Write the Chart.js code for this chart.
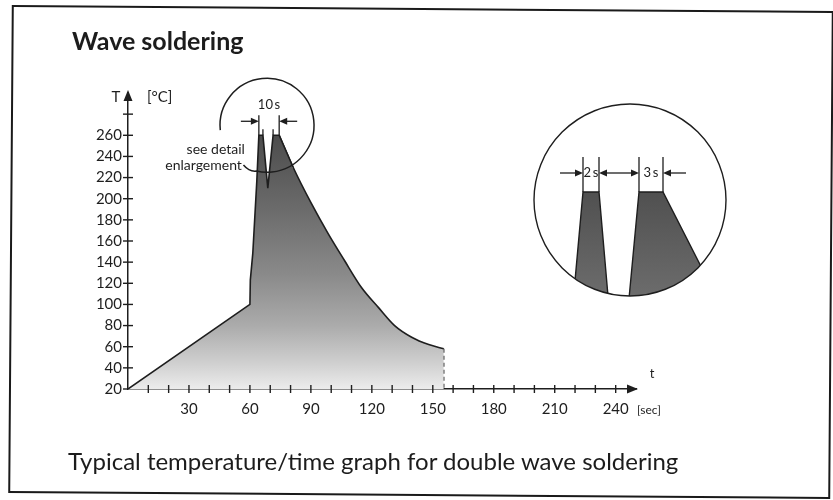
<!DOCTYPE html>
<html>
<head>
<meta charset="utf-8">
<script src="https://cdn.jsdelivr.net/npm/chart.js@4.4.1/dist/chart.umd.min.js"></script>
<style>
  html, body { margin: 0; padding: 0; background: #fff; }
  #wrap { position: relative; width: 833px; height: 500px; overflow: hidden; background: #fff; }
  #frame { position: absolute; left: 10px; top: 8px; width: 822px; height: 488px;
           border: 2px solid #1a1a1a; box-sizing: border-box; transform: rotate(0.42deg); }
  .txt { position: absolute; font-family: Lato, "Open Sans", sans-serif; color: #1c1c1c; white-space: nowrap; }
  #title { left: 72px; top: 25px; font-size: 25px; line-height: 30px; font-weight: bold; }
  #caption { left: 68px; top: 446px; font-size: 24px; line-height: 30px; font-weight: normal; }
  canvas { position: absolute; }
  #main { left: 0; top: 0; }
  #detail { left: 520px; top: 95px; }
</style>
</head>
<body>
<div id="wrap">
  <canvas id="main" width="833" height="500"></canvas>
  <canvas id="detail" width="220" height="215"></canvas>
  <div id="title" class="txt">Wave soldering</div>
  <div id="caption" class="txt">Typical temperature/time graph for double wave soldering</div>
  <div id="frame"></div>
</div>
<script>
// Preheat ramp and the two solder waves (time in s, temperature in °C)
const rampTime = [0, 60, 60.2, 61.4, 63.4, 64.4, 66.4, 68.8, 71.4, 74.4];
const rampTemp = [20, 100, 123, 148, 217, 260, 260, 210, 260, 260];

// Cooling after the second wave
const coolTime = [74.4, 81.2, 90.1, 98.5, 106.4, 114.9, 123.3, 131.2, 139.6, 148.0, 155.4];
const coolTemp = [260, 230, 196, 167, 142, 116, 97, 80, 69, 62, 58];

// Enlarged view of the two wave peaks
const detailTime = [62.6, 64.4, 66.4, 68.8, 71.4, 74.4, 84.6];
const detailTemp = [180, 260, 260, 149, 260, 260, 180];

// Axis tick labels
const timeLabels = [30, 60, 90, 120, 150, 180, 210, 240];
const tempLabels = [20, 40, 60, 80, 100, 120, 140, 160, 180, 200, 220, 240, 260];

const FONT = 'Lato, "Open Sans", sans-serif';
const INK = '#1e1e1e';

const pts = (xs, ys) => xs.map((x, i) => ({ x, y: ys[i] }));
const endTime = coolTime[coolTime.length - 1];
const endTemp = coolTemp[coolTemp.length - 1];

function arrowHead(ctx, x, y, angle, len, half) {
  ctx.save();
  ctx.translate(x, y);
  ctx.rotate(angle);
  ctx.beginPath();
  ctx.moveTo(0, 0);
  ctx.lineTo(-len, -half);
  ctx.lineTo(-len, half);
  ctx.closePath();
  ctx.fill();
  ctx.restore();
}

function line(ctx, x1, y1, x2, y2) {
  ctx.beginPath();
  ctx.moveTo(x1, y1);
  ctx.lineTo(x2, y2);
  ctx.stroke();
}

function profileFill(context) {
  const chart = context.chart;
  const { ctx, chartArea, scales } = chart;
  if (!chartArea) return null;
  const top = scales.y.getPixelForValue(260);
  const bottom = scales.y.getPixelForValue(20);
  const g = ctx.createLinearGradient(0, top, 0, bottom);
  g.addColorStop(0, '#4c4c4c');
  g.addColorStop(0.3, '#6c6c6c');
  g.addColorStop(0.55, '#8a8a8a');
  g.addColorStop(0.75, '#ababab');
  g.addColorStop(0.9, '#d0d0d0');
  g.addColorStop(1, '#ececec');
  return g;
}

// Axis ticks, arrows, axis names and the magnifier annotation
const mainDecor = {
  id: 'mainDecor',
  afterDraw(chart) {
    const { ctx, scales: { x, y } } = chart;
    const x0 = x.getPixelForValue(0);
    const y0 = y.getPixelForValue(20);
    ctx.save();
    ctx.strokeStyle = INK;
    ctx.fillStyle = INK;
    ctx.lineWidth = 1.4;

    // crossing tick marks
    x.ticks.forEach(t => {
      if (t.value <= 0 || t.value > 240) return;
      const px = x.getPixelForValue(t.value);
      line(ctx, px, y0 - 4, px, y0 + 4);
    });
    y.ticks.forEach(t => {
      if (t.value <= 20 || t.value > 280) return;
      const py = y.getPixelForValue(t.value);
      line(ctx, x0 - 5, py, x0 + 5, py);
    });
    line(ctx, x0 - 5, y0, x0, y0);

    // axis arrows
    arrowHead(ctx, x0, y.top - 3, -Math.PI / 2, 11, 4.5);
    arrowHead(ctx, x.right + 2, y0, 0, 11, 4.5);

    // axis names and units
    ctx.font = '15px ' + FONT;
    ctx.textBaseline = 'middle';
    ctx.textAlign = 'center';
    ctx.fillText('T', x0 - 12, y.top + 4);
    ctx.textAlign = 'left';
    ctx.fillText('[°C]', x0 + 19, y.top + 4);
    ctx.font = '13px ' + FONT;
    ctx.textAlign = 'center';
    ctx.fillText('t', x.right + 16, y0 - 15);
    ctx.font = '12px ' + FONT;
    ctx.textAlign = 'left';
    ctx.fillText('[sec]', x.right + 1, y0 + 21);

    // magnifier around the wave peaks
    const pL = x.getPixelForValue(rampTime[5]);
    const pIn1 = x.getPixelForValue(rampTime[6]);
    const pIn2 = x.getPixelForValue(rampTime[8]);
    const pR = x.getPixelForValue(rampTime[9]);
    const yTop = y.getPixelForValue(260);
    const cx = (pL + pR) / 2 - 2;
    const cy = yTop - 10;
    const r = 47;
    const a0 = 174 * Math.PI / 180;
    const a1 = (360 + 103) * Math.PI / 180;
    ctx.lineWidth = 1.5;
    ctx.beginPath();
    ctx.arc(cx, cy, r, a0, a1, false);
    const ex = cx + r * Math.cos(a1);
    const ey = cy + r * Math.sin(a1);
    ctx.quadraticCurveTo(ex - 7, ey + 1, ex - 13, ey - 6);
    ctx.stroke();

    // 10 s dimension
    ctx.lineWidth = 1.3;
    line(ctx, pL, yTop - 20, pL, yTop);
    line(ctx, pR, yTop - 20, pR, yTop);
    line(ctx, pIn1, yTop - 6, pIn1, yTop);
    line(ctx, pIn2, yTop - 6, pIn2, yTop);
    const ay = yTop - 14;
    line(ctx, pL - 18, ay, pL - 6, ay);
    arrowHead(ctx, pL, ay, 0, 8, 3.5);
    line(ctx, pR + 18, ay, pR + 6, ay);
    arrowHead(ctx, pR, ay, Math.PI, 8, 3.5);
    ctx.font = '13px ' + FONT;
    ctx.textAlign = 'center';
    ctx.fillText('10\u2009s', (pL + pR) / 2, yTop - 30);

    ctx.font = '14px ' + FONT;
    ctx.textAlign = 'right';
    ctx.fillText('see detail', pL - 14, yTop + 14);
    ctx.fillText('enlargement', pL - 17, yTop + 30);
    ctx.restore();
  }
};

const mainChart = new Chart(document.getElementById('main'), {
  type: 'line',
  data: {
    datasets: [
      {
        // runs on to the first cooling reading so its fill sits under the start of the cooling fill
        label: 'Preheat and waves',
        data: pts(rampTime.concat(coolTime[1]), rampTemp.concat(coolTemp[1])),
        borderColor: INK, borderWidth: 1.6, pointRadius: 0, tension: 0,
        fill: 'start', backgroundColor: profileFill
      },
      {
        label: 'Cooling',
        data: pts(coolTime, coolTemp),
        borderColor: INK, borderWidth: 1.6, pointRadius: 0, cubicInterpolationMode: 'monotone',
        fill: 'start', backgroundColor: profileFill
      },
      {
        label: 'End of cycle',
        data: pts([endTime, endTime], [endTemp, tempLabels[0]]),
        borderColor: INK, borderWidth: 1.3, borderDash: [4, 3], pointRadius: 0, fill: false
      }
    ]
  },
  options: {
    responsive: false,
    animation: false,
    events: [],
    layout: { padding: { left: 88, right: 197, top: 93, bottom: 81 } },
    plugins: { legend: { display: false }, tooltip: { enabled: false } },
    scales: {
      x: {
        type: 'linear', min: 0, max: 250,
        grid: { display: false, drawTicks: false },
        border: { color: INK, width: 1.5 },
        ticks: {
          stepSize: 10, autoSkip: false, maxRotation: 0, padding: 11, color: INK,
          font: { family: FONT, size: 15 },
          callback: v => timeLabels.includes(v) ? String(v) : ''
        },
        afterFit: s => { s.height = 30; }
      },
      y: {
        type: 'linear', min: 20, max: 300,
        grid: { display: false, drawTicks: false },
        border: { color: INK, width: 1.5 },
        ticks: {
          stepSize: 20, autoSkip: false, padding: 6, color: INK,
          font: { family: FONT, size: 15 },
          callback: v => tempLabels.includes(v) ? String(v) : ''
        },
        afterFit: s => { s.width = 40; }
      }
    }
  },
  plugins: [mainDecor]
});

// Detail view: circular clip, outline and the 2 s / 3 s dimensions
const detailDecor = {
  id: 'detailDecor',
  beforeDatasetsDraw(chart) {
    const a = chart.chartArea;
    const ctx = chart.ctx;
    ctx.save();
    ctx.beginPath();
    ctx.arc((a.left + a.right) / 2, (a.top + a.bottom) / 2, (a.right - a.left) / 2, 0, Math.PI * 2);
    ctx.clip();
  },
  afterDatasetsDraw(chart) {
    const { ctx, chartArea: a, scales: { x, y } } = chart;
    ctx.restore();
    ctx.save();
    ctx.strokeStyle = INK;
    ctx.fillStyle = INK;
    ctx.lineWidth = 1.4;
    ctx.beginPath();
    ctx.arc((a.left + a.right) / 2, (a.top + a.bottom) / 2, (a.right - a.left) / 2, 0, Math.PI * 2);
    ctx.stroke();

    const e1 = x.getPixelForValue(detailTime[1]);
    const e2 = x.getPixelForValue(detailTime[2]);
    const e3 = x.getPixelForValue(detailTime[4]);
    const e4 = x.getPixelForValue(detailTime[5]);
    const yTop = y.getPixelForValue(260);
    ctx.lineWidth = 1.3;
    [e1, e2, e3, e4].forEach(px => line(ctx, px, yTop - 35, px, yTop));
    const ay = yTop - 19;
    line(ctx, e1 - 23, ay, e1 - 6, ay);
    arrowHead(ctx, e1, ay, 0, 8, 3.5);
    line(ctx, e2 + 6, ay, e3 - 6, ay);
    arrowHead(ctx, e2, ay, Math.PI, 8, 3.5);
    arrowHead(ctx, e3, ay, 0, 8, 3.5);
    line(ctx, e4 + 23, ay, e4 + 6, ay);
    arrowHead(ctx, e4, ay, Math.PI, 8, 3.5);
    ctx.font = '13px ' + FONT;
    ctx.textAlign = 'center';
    ctx.textBaseline = 'middle';
    ctx.fillText('2\u2009s', (e1 + e2) / 2, ay);
    ctx.fillText('3\u2009s', (e3 + e4) / 2, ay);
    ctx.restore();
  }
};

function detailFill(context) {
  const chart = context.chart;
  const { ctx, chartArea } = chart;
  if (!chartArea) return null;
  const g = ctx.createLinearGradient(0, chartArea.top + 80, 0, chartArea.bottom);
  g.addColorStop(0, '#4e4e4e');
  g.addColorStop(1, '#6c6c6c');
  return g;
}

const detailChart = new Chart(document.getElementById('detail'), {
  type: 'line',
  data: {
    datasets: [{
      label: 'Wave peaks (enlarged)',
      data: pts(detailTime, detailTemp),
      borderColor: INK, borderWidth: 1.4, pointRadius: 0, tension: 0,
      fill: 'start', backgroundColor: detailFill, clip: false
    }]
  },
  options: {
    responsive: false,
    animation: false,
    events: [],
    layout: { padding: { left: 14, right: 14, top: 9, bottom: 14 } },
    plugins: { legend: { display: false }, tooltip: { enabled: false } },
    scales: {
      x: { type: 'linear', display: false, min: detailTime[1] - 6.125, max: detailTime[1] + 17.875 },
      y: { type: 'linear', display: false, min: 208, max: 304 }
    }
  },
  plugins: [detailDecor]
});
</script>
</body>
</html>
